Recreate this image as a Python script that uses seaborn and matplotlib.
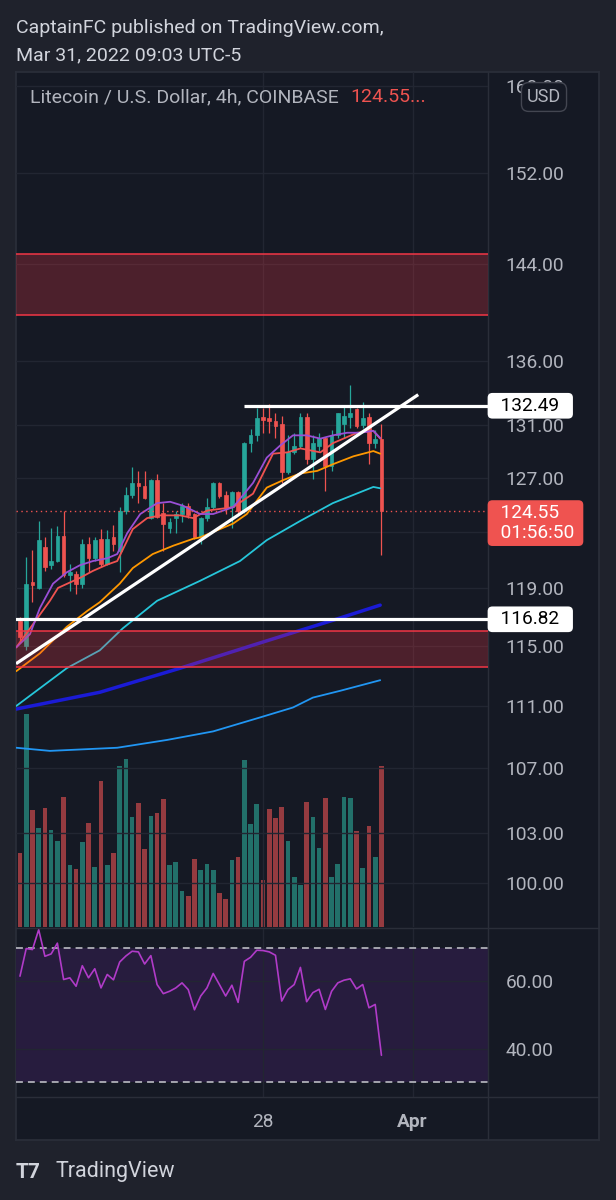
import numpy as np
import pandas as pd
import matplotlib
matplotlib.use("Agg")
import matplotlib.pyplot as plt
from matplotlib.lines import Line2D
from matplotlib.ticker import FixedLocator, NullLocator, FuncFormatter
import seaborn as sns

# LTC/USD 4h candles
opens = [116.7, 115.0, 119.4, 119.0, 121.9, 120.6, 120.9, 122.7, 119.9, 120.0,
         119.3, 122.1, 121.1, 122.5, 120.7, 122.6, 121.6, 124.55, 125.7, 126.6,
         126.4, 124.0, 126.8, 124.4, 123.3, 124.0, 124.3, 124.9, 124.3, 122.6,
         124.0, 124.8, 126.6, 125.7, 124.8, 125.9, 124.55, 129.6, 130.2, 131.6,
         131.5, 131.3, 131.1, 127.4, 128.9, 129.4, 131.6, 128.4, 129.4, 130.0,
         127.9, 130.2, 131.1, 131.6, 132.2, 131.0, 131.6, 129.6, 129.9]
highs = [117.0, 121.2, 121.7, 123.8, 122.6, 123.3, 123.4, 124.5, 120.7, 120.2,
         122.5, 122.6, 122.6, 123.2, 123.1, 123.5, 124.8, 126.3, 127.8, 127.5,
         127.5, 126.9, 127.3, 125.1, 124.0, 124.55, 125.1, 125.1, 124.4, 124.1,
         125.45, 126.65, 126.7, 126.0, 126.0, 126.0, 129.7, 130.7, 132.3, 132.3,
         132.65, 131.95, 131.7, 130.2, 130.4, 131.9, 131.9, 130.2, 130.4, 130.1,
         130.6, 131.95, 132.5, 134.1, 132.35, 132.8, 131.95, 130.6, 131.1]
lows = [115.2, 114.7, 118.0, 118.9, 120.2, 120.3, 120.85, 119.8, 118.8, 118.6,
        119.0, 120.1, 120.9, 120.5, 120.6, 121.65, 120.1, 124.3, 125.5, 125.1,
        125.4, 123.9, 124.0, 121.65, 122.9, 122.95, 123.7, 124.0, 122.5, 122.15,
        123.8, 124.7, 125.5, 124.3, 123.3, 124.4, 124.4, 128.9, 129.8, 130.4,
        130.4, 130.0, 126.6, 127.3, 128.8, 129.25, 128.05, 126.9, 129.0, 126.0,
        127.5, 130.0, 130.0, 130.8, 130.8, 130.8, 128.05, 129.25, 121.3]
closes = [115.6, 119.3, 119.2, 122.4, 120.5, 120.9, 122.7, 119.9, 120.1, 119.3,
          122.1, 121.1, 122.4, 120.7, 122.5, 122.1, 124.55, 125.7, 126.6, 126.4,
          125.5, 126.8, 124.1, 123.6, 123.7, 124.3, 124.9, 124.25, 122.6, 124.0,
          124.8, 126.6, 125.6, 124.8, 125.9, 124.55, 129.6, 130.2, 131.5, 131.4,
          131.3, 130.95, 127.4, 128.9, 129.4, 131.6, 128.4, 129.6, 130.0, 127.9,
          130.2, 131.9, 131.7, 131.95, 130.95, 131.5, 129.6, 129.9, 124.55]
volume = [74, 213, 117, 99, 119, 97, 86, 130, 62, 58,
          85, 104, 60, 146, 62, 74, 161, 168, 110, 124,
          78, 111, 114, 128, 62, 65, 36, 31, 68, 57,
          63, 57, 34, 28, 67, 70, 167, 103, 123, 47,
          118, 109, 120, 86, 50, 42, 125, 110, 79, 129,
          50, 63, 130, 129, 96, 59, 101, 70, 161]
rsi = [61.5, 69.7, 69.4, 75.3, 67.4, 68.1, 71.3, 60.5, 61.0, 58.5,
       64.6, 61.0, 63.7, 58.0, 62.0, 60.4, 65.7, 67.5, 68.9, 68.7,
       65.1, 67.6, 59.0, 56.3, 57.0, 58.0, 59.5, 57.5, 51.5, 55.6,
       58.0, 62.3, 59.0, 55.6, 58.8, 53.7, 65.9, 67.1, 69.2, 69.1,
       68.7, 67.7, 54.1, 57.5, 59.0, 64.1, 53.9, 56.6, 57.6, 51.6,
       57.0, 59.5, 60.3, 60.7, 57.7, 59.0, 52.1, 53.1, 38.0]

# moving averages, sampled along each line (x = candle index)
purple_x = [-0.6, 1.6, 3.2, 5.3, 7.5, 9.6, 11.7, 14, 15.6, 17.2, 19.3, 22, 24.1, 26.2,
            28.9, 31, 34.2, 37.4, 39.6, 41.7, 43.8, 46, 48.2, 50.2, 52.5, 54.6, 56.7, 57.8]
purple_y = [114.9, 115.8, 117.6, 119.3, 120.1, 120.6, 120.9, 121.1, 121.4, 122.9, 124.3,
            125.1, 125.2, 124.9, 124.3, 124.3, 124.8, 126.6, 128.5, 129.4, 130.2, 130.2,
            129.95, 130.2, 130.4, 130.4, 130.55, 130.0]
red_x = [-0.6, 4.8, 6.1, 9.6, 11.7, 14, 15.6, 18.1, 20.4, 22.5, 25.7, 27.8, 30, 34.2,
         37.4, 40.6, 42.9, 45, 48.2, 50.2, 54.1, 56.7, 57.8]
red_y = [114.9, 118.1, 119.0, 119.7, 120.2, 120.65, 120.9, 123.2, 124.0, 124.2, 124.2,
         124.0, 124.55, 124.8, 125.8, 128.8, 128.9, 129.2, 128.9, 129.6, 130.4, 130.55, 129.95]
orange_x = [-0.6, 3.2, 7.5, 10.8, 12.8, 16, 18.1, 21.3, 24.6, 27.8, 28.9, 34.2, 36.4,
            39.6, 42.2, 44.9, 47.7, 50.2, 53.5, 56.7, 57.8]
orange_y = [113.3, 114.5, 116.3, 117.4, 118.0, 119.3, 120.4, 121.4, 122.0, 122.5, 122.6,
            123.6, 124.3, 126.25, 126.8, 127.3, 127.5, 128.0, 128.6, 129.0, 128.8]
cyan_x = [-0.6, 7.5, 12.8, 16.5, 22, 28.9, 35.3, 39.6, 45, 50.2, 56.7, 57.8]
cyan_y = [111.0, 113.5, 114.7, 116.2, 118.1, 119.5, 120.9, 122.4, 123.8, 125.1, 126.3, 126.2]
navy_x = [-0.6, 12.8, 25.7, 38.5, 44.9, 50.2, 57.8]
navy_y = [110.8, 111.9, 113.5, 115.2, 116.05, 116.75, 117.8]
blue_x = [-0.6, 4.8, 15.6, 23.6, 31, 38.5, 43.8, 47, 51.4, 57.8]
blue_y = [108.3, 108.1, 108.3, 108.8, 109.35, 110.25, 110.9, 111.55, 112.0, 112.7]

# drawings
last_price = 124.55
countdown = "01:56:50"
resistance = 132.49
resistance_from = 36
support = 116.82
upper_zone = (139.74, 144.85)
lower_zone = (113.6, 116.0)
trend_x = [-0.64, 63.9]
trend_y = [113.8, 133.36]

price_ticks = [100, 103, 107, 111, 115, 119, 123, 127, 131, 136, 144, 152, 160]
rsi_ticks = [40, 60]
time_ticks = [39, 63]
time_labels = ["28", "Apr"]

FIG_BG = "#1f222c"
PANE_BG = "#151924"
GRID = "#222632"
BORDER = "#2a2e39"
TXT = "#b2b5be"
UP = "#26a69a"
DOWN = "#ef5350"
VOL_UP = "#22706a"
VOL_DOWN = "#953b40"

sns.set_theme(style="dark")
plt.rcParams["font.family"] = ["Roboto", "DejaVu Sans"]

W, H = 616, 1200
fig = plt.figure(figsize=(6.16, 12), dpi=100, facecolor=FIG_BG)


def fx(px):
    return px / W


def fy(py):
    return 1 - py / H


frame = fig.add_axes([fx(16), fy(1140), fx(583), (1140 - 72) / H])
frame.set_facecolor(PANE_BG)
frame.set_xticks([])
frame.set_yticks([])
for s in frame.spines.values():
    s.set_color(BORDER)
frame.set_zorder(-1)

ax = fig.add_axes([fx(16), fy(927), fx(472), (927 - 72) / H])
vax = ax.twinx()
rax = fig.add_axes([fx(16), fy(1097), fx(472), (1097 - 928) / H])
tax = fig.add_axes([fx(16), fy(1140), fx(472), (1140 - 1097) / H])
vax.set_zorder(1)
ax.set_zorder(2)
rax.set_zorder(1)
tax.set_zorder(1)
for a in (ax, vax, rax, tax):
    a.patch.set_visible(False)
    for s in a.spines.values():
        s.set_visible(False)

x_lim = (-0.64, 75.1)
idx = np.arange(len(opens))
o, h, l, c = map(np.array, (opens, highs, lows, closes))
up = c >= o
col = np.where(up, UP, DOWN)

# volume (overlay)
vol_df = pd.DataFrame({"bar": idx, "volume": volume, "side": np.where(up, "up", "down")})
sns.barplot(data=vol_df, x="bar", y="volume", hue="side", palette={"up": VOL_UP, "down": VOL_DOWN},
            native_scale=True, width=0.75, dodge=False, saturation=1, legend=False,
            errorbar=None, ax=vax, linewidth=0)
vax.set_ylim(0, 855)
vax.set_yticks([])
vax.set_ylabel("")

# price pane
ax.set_yscale("log")
ax.set_axisbelow("line")
ax.vlines(idx, l, h, colors=col, lw=0.9, zorder=2)
ax.bar(idx, np.maximum(o, c) - np.minimum(o, c), bottom=np.minimum(o, c), width=0.6,
       color=col, edgecolor=col, lw=0.5, zorder=2.2)

for xs, ys, colr, lw in [(blue_x, blue_y, "#2196f3", 1.3), (navy_x, navy_y, "#1b1bd6", 2.5),
                         (cyan_x, cyan_y, "#26c6da", 1.3), (orange_x, orange_y, "#ff9800", 1.3),
                         (red_x, red_y, "#f05350", 1.3), (purple_x, purple_y, "#9a4fd6", 1.3)]:
    sns.lineplot(x=xs, y=ys, color=colr, linewidth=lw, ax=ax, zorder=3, sort=False, estimator=None)

for lo, hi in (upper_zone, lower_zone):
    ax.axhspan(lo, hi, color="#f23645", alpha=0.25, lw=0, zorder=4)
    ax.axhline(lo, color="#f23645", lw=1.1, zorder=4)
    ax.axhline(hi, color="#f23645", lw=1.1, zorder=4)

ax.axhline(last_price, color=DOWN, lw=1, ls=(0, (1, 2.5)), zorder=3)
ax.axhline(support, color="white", lw=2.3, zorder=5)
ax.hlines(resistance, resistance_from, x_lim[1], color="white", lw=2.3, zorder=5)
ax.plot(trend_x, trend_y, color="white", lw=2.3, zorder=5, solid_capstyle="butt")

ax.set_xlim(*x_lim)
ax.set_ylim(97.44, 161.3)
ax.yaxis.set_major_locator(FixedLocator(price_ticks))
ax.yaxis.set_minor_locator(NullLocator())
ax.yaxis.set_major_formatter(FuncFormatter(lambda v, p: f"{v:.2f}"))
ax.yaxis.tick_right()
ax.tick_params(axis="y", length=0, pad=12.5, labelsize=13.8, labelcolor=TXT)
ax.set_xticks(time_ticks)
ax.tick_params(axis="x", length=0, labelbottom=False)
ax.grid(True, color=GRID, lw=1)
ax.set_xlabel("")
ax.set_ylabel("")


def price_tag(axis, value, text, fc, tc, dy=0):
    axis.annotate(text, xy=(1, value), xycoords=axis.get_yaxis_transform(),
                  xytext=(2.5, dy), textcoords="offset points", ha="left", va="center",
                  fontsize=13.8, color=tc, annotation_clip=False, zorder=10, linespacing=1.15,
                  bbox=dict(boxstyle="round,pad=0.2,rounding_size=0.25", fc=fc, ec="none"))


price_tag(ax, resistance, f"  {resistance:.2f}  ", "white", "black")
price_tag(ax, support, f"  {support:.2f}  ", "white", "black")
price_tag(ax, last_price, f"  {last_price:.2f}\n  {countdown} ", DOWN, "white", dy=-9)

leg = fig.text(fx(30), fy(97), "Litecoin / U.S. Dollar, 4h, COINBASE", ha="left", va="center",
               fontsize=14, color=TXT)
ax.annotate(f"{last_price:.2f}...", xy=(1, 0.5), xycoords=leg, xytext=(8, 0),
            textcoords="offset points", ha="left", va="center", fontsize=14, color=DOWN,
            annotation_clip=False)
fig.text(fx(544), fy(97), "USD", ha="center", va="center", fontsize=13, color=TXT, zorder=10,
         bbox=dict(boxstyle="round,pad=0.3,rounding_size=0.4", fc=PANE_BG, ec="#434651", lw=1))

# RSI pane
rax.set_axisbelow("line")
rax.axhspan(30, 70, color="#271c3e", lw=0, zorder=0.2)
rax.axhline(70, color="#c8cad0", lw=1.1, ls=(0, (4.5, 3.3)), zorder=1.8)
rax.axhline(30, color="#c8cad0", lw=1.1, ls=(0, (4.5, 3.3)), zorder=1.8)
sns.lineplot(x=idx, y=rsi, color="#b03bc8", linewidth=1.2, ax=rax, zorder=3)
rax.set_xlim(*x_lim)
rax.set_ylim(25.6, 75.8)
rax.set_yticks(rsi_ticks)
rax.yaxis.set_major_formatter(FuncFormatter(lambda v, p: f"{v:.2f}"))
rax.yaxis.tick_right()
rax.tick_params(axis="y", length=0, pad=12.5, labelsize=13.8, labelcolor=TXT)
rax.set_xticks(time_ticks)
rax.tick_params(axis="x", length=0, labelbottom=False)
rax.grid(True, color=GRID, lw=1)
rax.set_xlabel("")
rax.set_ylabel("")

# time axis
tax.set_xlim(*x_lim)
tax.set_yticks([])
tax.set_xticks(time_ticks, time_labels)
tax.tick_params(axis="x", length=0, pad=-19.5, labelsize=13.8, labelcolor=TXT)
tax.get_xticklabels()[1].set_fontweight("bold")
tax.grid(False)

for xs, ys in (([fx(16), fx(599)], [fy(927.5)] * 2), ([fx(16), fx(599)], [fy(1097)] * 2),
               ([fx(488)] * 2, [fy(72), fy(1140)])):
    fig.add_artist(Line2D(xs, ys, transform=fig.transFigure, color=BORDER, lw=1, zorder=1.5))

fig.text(fx(16), fy(33), "CaptainFC published on TradingView.com,", ha="left", va="baseline",
         fontsize=14, color="#d1d4dc")
fig.text(fx(16), fy(60), "Mar 31, 2022 09:03 UTC-5", ha="left", va="baseline",
         fontsize=14, color="#d1d4dc")
fig.text(fx(16), fy(1172), "T7", ha="left", va="center", fontsize=15, fontweight="bold",
         color="#d1d4dc")
fig.text(fx(55), fy(1172), "TradingView", ha="left", va="center", fontsize=15.5, color="#d1d4dc")

fig.savefig("out.png", dpi=100, facecolor=FIG_BG)
